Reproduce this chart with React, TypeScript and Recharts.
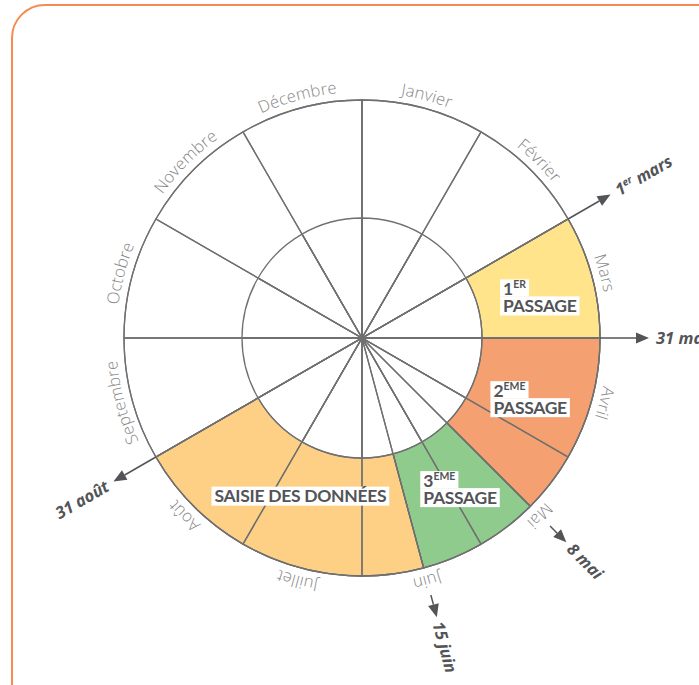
import React from 'react';
import { PieChart, Pie, Cell } from 'recharts';

// ---- data ----
const months = ['Janvier', 'Février', 'Mars', 'Avril', 'Mai', 'Juin', 'Juillet', 'Août', 'Septembre', 'Octobre', 'Novembre', 'Décembre'];
const monthLengths = [1, 1, 1, 1, 1, 1, 1, 1, 1, 1, 1, 1];

const phaseKeys = ['hiver', 'passage1', 'passage2', 'passage3', 'saisie', 'automne'];
const phaseDurations = [2, 1, 1.5, 1, 2.5, 4]; // in months, starting 1 January
const phaseNumbers = ['', '1', '2', '3', '', ''];
const phaseSuperscripts = ['', 'ER', 'EME', 'EME', '', ''];
const phaseTitles = ['', 'PASSAGE', 'PASSAGE', 'PASSAGE', 'SAISIE DES DONNÉES', ''];
const phaseColors = ['none', '#FFE48B', '#F5A071', '#8ECB8D', '#FDD086', 'none'];
const endDay = ['1', '31', '8', '15', '31', ''];
const endSup = ['er', '', '', '', '', ''];
const endMonth = ['mars', 'mars', 'mai', 'juin', 'août', ''];
const endArrowType = ['long', 'long', 'short', 'short', 'long', ''];

const monthData = months.map((name, i) => ({ name, value: monthLengths[i] }));
const phaseData = phaseKeys.map((name, i) => ({ name, value: phaseDurations[i] }));

// ---- style ----
const CX = 362;
const CY = 338;
const R_OUT = 238;
const R_IN = 120;
const LINE = '#707070';
const DARK = '#525457';
const BOLD_FONT = 'Lato, sans-serif';
const BOLD_SPACING = -0.3;
const labelNudge: Record<string, [number, number, number]> = {
  passage1: [182, 2, 15],
  passage2: [182, 0, 0],
  passage3: [182, 7, 2],
  saisie: [182, 8, -10],
};

let ctx: CanvasRenderingContext2D | null = null;
function textWidth(s: string, font: string, spacing = 0): number {
  if (!ctx) ctx = document.createElement('canvas').getContext('2d');
  if (!ctx) return s.length * 9;
  ctx.font = font;
  return ctx.measureText(s).width + spacing * s.length;
}

function polar(cx: number, cy: number, r: number, deg: number) {
  const a = (deg * Math.PI) / 180;
  return { x: cx + r * Math.cos(a), y: cy - r * Math.sin(a) };
}

const renderMonthLabel = (props: any) => {
  const { cx, cy, startAngle, endAngle, index } = props;
  const r = 246;
  const p1 = polar(cx, cy, r, startAngle);
  const p2 = polar(cx, cy, r, endAngle);
  const id = `month-arc-${index}`;
  return (
    <g key={id}>
      <path id={id} d={`M ${p1.x} ${p1.y} A ${r} ${r} 0 0 1 ${p2.x} ${p2.y}`} fill="none" stroke="none" />
      <text fontFamily="'Open Sans', sans-serif" fontWeight={300} fontSize={16.5} fill="#868686" letterSpacing={0.2}>
        <textPath href={`#${id}`} startOffset="50%" textAnchor="middle">
          {months[index]}
        </textPath>
      </text>
    </g>
  );
};

const renderPhaseLabel = (props: any) => {
  const { cx, cy, endAngle, midAngle, index } = props;
  const out: React.ReactNode[] = [];
  const key = phaseKeys[index];

  // milestone arrow + date
  const kind = endArrowType[index];
  if (kind) {
    const a = endAngle;
    const rad = (a * Math.PI) / 180;
    const r0 = kind === 'long' ? R_OUT : 266;
    const tipR = kind === 'long' ? 287 : 289;
    const head = 13;
    const hw = 5.5;
    const s = polar(cx, cy, r0, a);
    const b = polar(cx, cy, tipR - head, a);
    const t = polar(cx, cy, tipR, a);
    const nx = Math.sin(rad);
    const ny = Math.cos(rad);
    const pl = { x: b.x + hw * nx, y: b.y + hw * ny };
    const pr = { x: b.x - hw * nx, y: b.y - hw * ny };
    out.push(<line key="al" x1={s.x} y1={s.y} x2={b.x} y2={b.y} stroke={DARK} strokeWidth={1.5} />);
    out.push(<polygon key="ah" points={`${t.x},${t.y} ${pl.x},${pl.y} ${pr.x},${pr.y}`} fill={DARK} />);
    const flip = Math.cos(rad) < -0.01;
    const rot = flip ? -a + 180 : -a;
    const tp = polar(cx, cy, 294, a);
    out.push(
      <text
        key="dt"
        transform={`translate(${tp.x},${tp.y}) rotate(${rot})`}
        x={0}
        y={6}
        textAnchor={flip ? 'end' : 'start'}
        fontFamily="'Open Sans', sans-serif"
        fontStyle="italic"
        fontWeight={700}
        fontSize={16.5}
        fill={DARK}
      >
        <tspan>{endDay[index]}</tspan>
        {endSup[index] ? (
          <tspan fontSize={10} dy={-6}>
            {endSup[index]}
          </tspan>
        ) : null}
        <tspan dy={endSup[index] ? 6 : 0}>{' ' + endMonth[index]}</tspan>
      </text>
    );
  }

  // phase label
  const title = phaseTitles[index];
  if (title) {
    const [rr, dx, dy] = labelNudge[key] || [182, 0, 0];
    const p = polar(cx, cy, rr, midAngle);
    const fs = 17.5;
    const sfs = 10.5;
    const w = textWidth(title, `700 ${fs}px Lato`, BOLD_SPACING);
    const bw = w + 6;
    const bh = 19;
    const left = p.x + dx - bw / 2;
    const top = p.y + dy - bh / 2;
    out.push(<rect key="b2" x={left} y={top} width={bw} height={bh} fill="#fff" />);
    out.push(
      <text
        key="t2"
        x={left + 3}
        y={top + 15.5}
        fontFamily={BOLD_FONT}
        fontWeight={700}
        fontSize={fs}
        letterSpacing={BOLD_SPACING}
        fill={DARK}
      >
        {title}
      </text>
    );
    if (phaseNumbers[index]) {
      const w1 =
        textWidth(phaseNumbers[index], `700 ${fs}px Lato`) + textWidth(phaseSuperscripts[index], `700 ${sfs}px Lato`) + 6;
      out.push(<rect key="b1" x={left} y={top - 17} width={w1} height={17} fill="#fff" />);
      out.push(
        <text key="t1" x={left + 3} y={top - 1} fontFamily={BOLD_FONT} fontWeight={700} fontSize={fs} fill={DARK}>
          <tspan>{phaseNumbers[index]}</tspan>
          <tspan fontSize={sfs} dy={-7.5}>
            {phaseSuperscripts[index]}
          </tspan>
        </text>
      );
    }
  }
  return <g key={`pl-${index}`}>{out}</g>;
};

export default function App() {
  return (
    <div style={{ position: 'absolute', left: 0, top: 0, width: 699, height: 685, overflow: 'hidden', background: '#fff' }}>
      <div
        style={{
          position: 'absolute',
          left: 11,
          top: 4,
          width: 760,
          height: 760,
          border: '2.5px solid #F58B4E',
          borderRadius: 34,
          boxSizing: 'border-box',
        }}
      />
      <div style={{ position: 'absolute', left: 0, top: 0 }}>
        <PieChart width={699} height={685} margin={{ top: 0, right: 0, bottom: 0, left: 0 }}>
          {/* coloured band */}
          <Pie
            data={phaseData}
            dataKey="value"
            nameKey="name"
            cx={CX}
            cy={CY}
            innerRadius={R_IN}
            outerRadius={R_OUT}
            startAngle={90}
            endAngle={-270}
            isAnimationActive={false}
            label={false}
            labelLine={false}
          >
            {phaseData.map((d, i) => (
              <Cell key={d.name} fill={phaseColors[i]} stroke={phaseColors[i] === 'none' ? 'none' : LINE} strokeWidth={1.3} />
            ))}
          </Pie>
          {/* phase boundary rays */}
          <Pie
            data={phaseData}
            dataKey="value"
            cx={CX}
            cy={CY}
            innerRadius={0}
            outerRadius={R_OUT}
            startAngle={90}
            endAngle={-270}
            isAnimationActive={false}
            fill="none"
            stroke={LINE}
            strokeWidth={1.3}
            label={false}
            labelLine={false}
          />
          {/* month sectors */}
          <Pie
            data={monthData}
            dataKey="value"
            nameKey="name"
            cx={CX}
            cy={CY}
            innerRadius={0}
            outerRadius={R_OUT}
            startAngle={90}
            endAngle={-270}
            isAnimationActive={false}
            fill="none"
            stroke={LINE}
            strokeWidth={1.3}
            label={renderMonthLabel}
            labelLine={false}
          />
          {/* inner circle */}
          <Pie
            data={monthData}
            dataKey="value"
            cx={CX}
            cy={CY}
            innerRadius={0}
            outerRadius={R_IN}
            startAngle={90}
            endAngle={-270}
            isAnimationActive={false}
            fill="none"
            stroke={LINE}
            strokeWidth={1.3}
            label={false}
            labelLine={false}
          />
          {/* labels, arrows */}
          <Pie
            data={phaseData}
            dataKey="value"
            cx={CX}
            cy={CY}
            innerRadius={0}
            outerRadius={R_OUT}
            startAngle={90}
            endAngle={-270}
            isAnimationActive={false}
            fill="none"
            stroke="none"
            label={renderPhaseLabel}
            labelLine={false}
          />
        </PieChart>
      </div>
    </div>
  );
}
